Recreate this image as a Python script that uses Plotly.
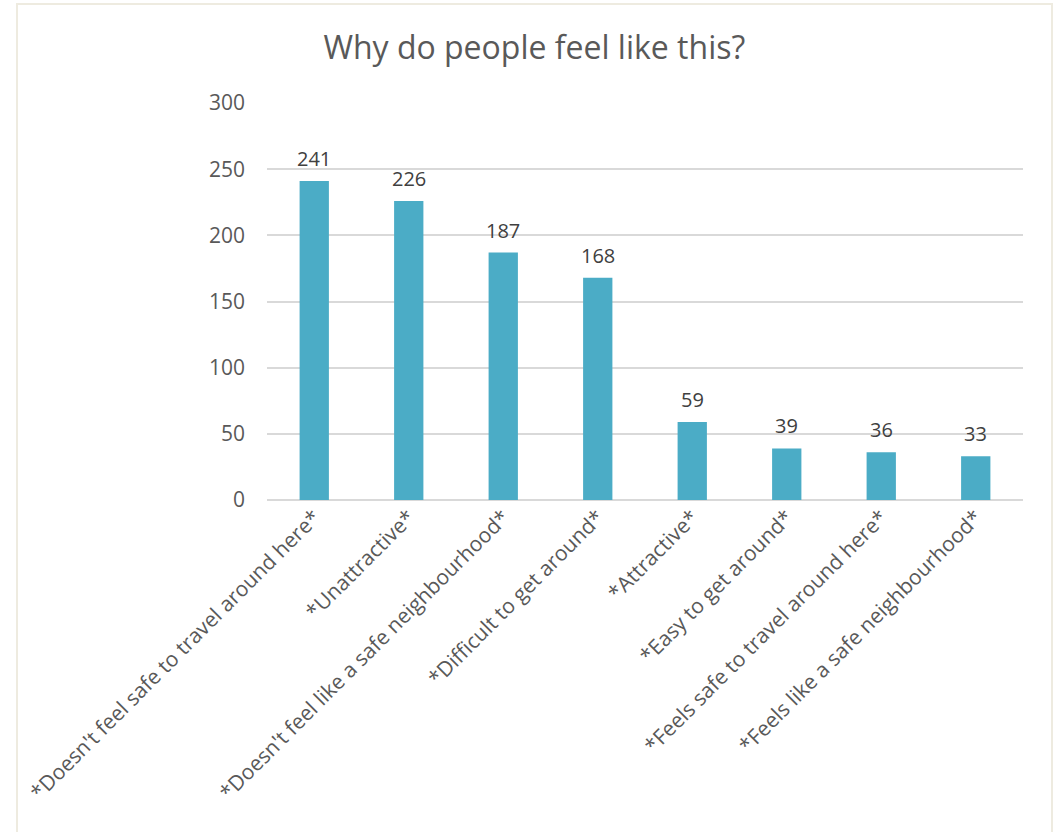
import plotly.graph_objects as go

# Survey responses: reasons given for how people feel about the area
categories = [
    "*Doesn't feel safe to travel around here*",
    "*Unattractive*",
    "*Doesn't feel like a safe neighbourhood*",
    "*Difficult to get around*",
    "*Attractive*",
    "*Easy to get around*",
    "*Feels safe to travel around here*",
    "*Feels like a safe neighbourhood*",
]
counts = [241, 226, 187, 168, 59, 39, 36, 33]
y_ticks = [0, 50, 100, 150, 200, 250, 300]

FONT = "Open Sans, Liberation Sans, sans-serif"
TEXT = "#595959"

fig = go.Figure(
    go.Bar(
        x=categories,
        y=counts,
        marker=dict(color="#4BACC6", line=dict(width=0)),
        cliponaxis=False,
    )
)

# value labels sitting a little above each bar
for cat, val in zip(categories, counts):
    fig.add_annotation(
        x=cat,
        y=val,
        text=str(val),
        showarrow=False,
        xanchor="center",
        yanchor="bottom",
        yshift=7,
        font=dict(family=FONT, size=20, color="#404040"),
    )

fig.update_layout(
    width=1056,
    height=832,
    paper_bgcolor="white",
    plot_bgcolor="white",
    margin=dict(l=267, r=33, t=103, b=332),
    bargap=0.69,
    showlegend=False,
    title=dict(
        text="Why do people feel like this?",
        x=0.506,
        xanchor="center",
        y=0.942,
        yanchor="middle",
        font=dict(family=FONT, size=32, color=TEXT),
    ),
    font=dict(family=FONT, color=TEXT),
    xaxis=dict(
        tickangle=-45,
        tickfont=dict(family=FONT, size=21, color=TEXT),
        showgrid=False,
        showline=False,
        ticks="",
    ),
    yaxis=dict(
        range=[0, 300],
        tickvals=y_ticks,
        tickfont=dict(family=FONT, size=21, color=TEXT),
        showgrid=True,
        gridcolor="#D9D9D9",
        gridwidth=1.5,
        zeroline=True,
        zerolinecolor="#D9D9D9",
        zerolinewidth=1.5,
        showline=False,
        ticks="",
        ticklabelstandoff=21,
    ),
    shapes=[
        dict(
            type="rect",
            xref="paper",
            yref="paper",
            x0=-0.3307,
            x1=1.0384,
            y0=-0.9,
            y1=1.2494,
            line=dict(color="#EEEBE0", width=2),
            fillcolor="rgba(0,0,0,0)",
            layer="below",
        )
    ],
)

fig.write_html("out.html")
